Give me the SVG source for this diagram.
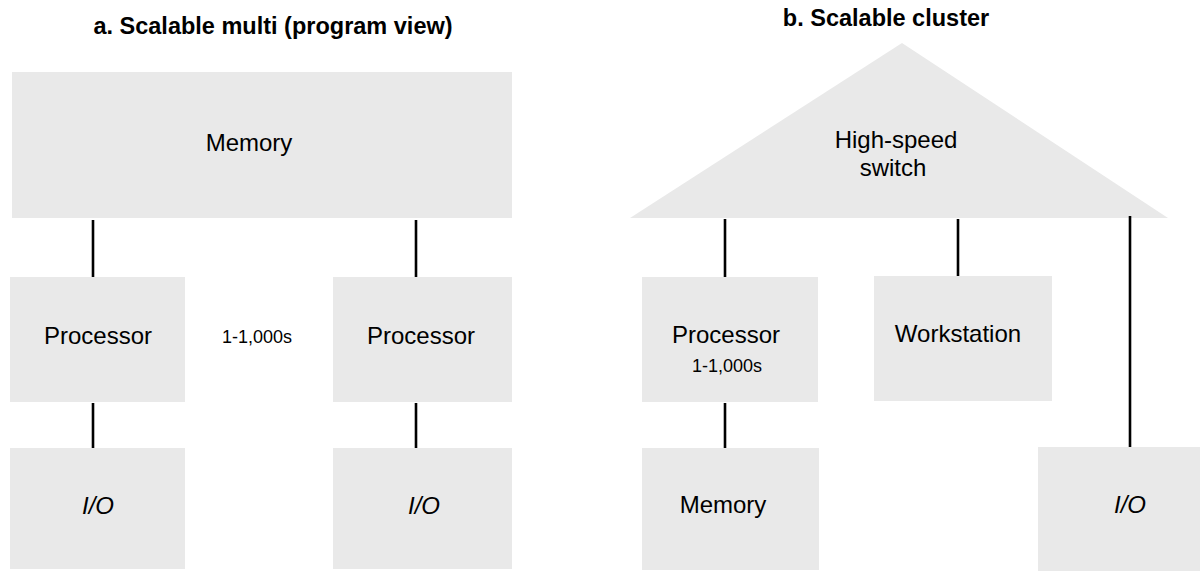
<svg xmlns="http://www.w3.org/2000/svg" width="1200" height="571" viewBox="0 0 1200 571">
<style>
.blk{fill:#e9e9e9;stroke:none}
.t{font-family:"Liberation Sans",Arial,sans-serif;font-size:24px;fill:#000;text-anchor:middle}
.s{font-size:18px}
.i{font-style:italic}
.h{font-family:"Liberation Sans",Arial,sans-serif;font-size:23.5px;font-weight:bold;fill:#000;text-anchor:middle}
.c{stroke:#000;stroke-width:2.6;fill:none}
</style>
<rect width="1200" height="571" fill="#fff"/>
<text class="h" x="273" y="34">a. Scalable multi (program view)</text>
<text class="h" x="886" y="26">b. Scalable cluster</text>

<g id="mem-a"><rect class="blk" x="12" y="72" width="500" height="146"/><text class="t" x="249" y="151">Memory</text></g>
<g id="proc-a1"><rect class="blk" x="10" y="277" width="175" height="125"/><text class="t" x="98" y="344">Processor</text></g>
<g id="proc-a2"><rect class="blk" x="333" y="277" width="179" height="125"/><text class="t" x="421" y="344">Processor</text></g>
<g id="count-a"><text class="t s" x="257" y="343">1-1,000s</text></g>
<g id="io-a1"><rect class="blk" x="10" y="448" width="175" height="121"/><text class="t i" x="98" y="514">I/O</text></g>
<g id="io-a2"><rect class="blk" x="333" y="448" width="179" height="121"/><text class="t i" x="424" y="514">I/O</text></g>

<g id="switch"><polygon class="blk" points="902,43 630,218 1168,218"/><text class="t" x="896" y="148">High-speed</text><text class="t" x="893" y="176">switch</text></g>
<g id="proc-b"><rect class="blk" x="642" y="277" width="176" height="125"/><text class="t" x="726" y="343">Processor</text><text class="t s" x="727" y="372">1-1,000s</text></g>
<g id="ws"><rect class="blk" x="874" y="276" width="178" height="125"/><text class="t" x="958" y="342">Workstation</text></g>
<g id="mem-b"><rect class="blk" x="642" y="448" width="177" height="122"/><text class="t" x="723" y="513">Memory</text></g>
<g id="io-b"><rect class="blk" x="1038" y="447" width="162" height="124"/><text class="t i" x="1130" y="513">I/O</text></g>

<g id="connectors">
<line class="c" x1="93" y1="220" x2="93" y2="277"/>
<line class="c" x1="416" y1="220" x2="416" y2="277"/>
<line class="c" x1="93" y1="403" x2="93" y2="448"/>
<line class="c" x1="416" y1="403" x2="416" y2="448"/>
<line class="c" x1="725" y1="219" x2="725" y2="277"/>
<line class="c" x1="958" y1="219" x2="958" y2="276"/>
<line class="c" x1="1130" y1="216" x2="1130" y2="447"/>
<line class="c" x1="725" y1="403" x2="725" y2="448"/>
</g>
</svg>
